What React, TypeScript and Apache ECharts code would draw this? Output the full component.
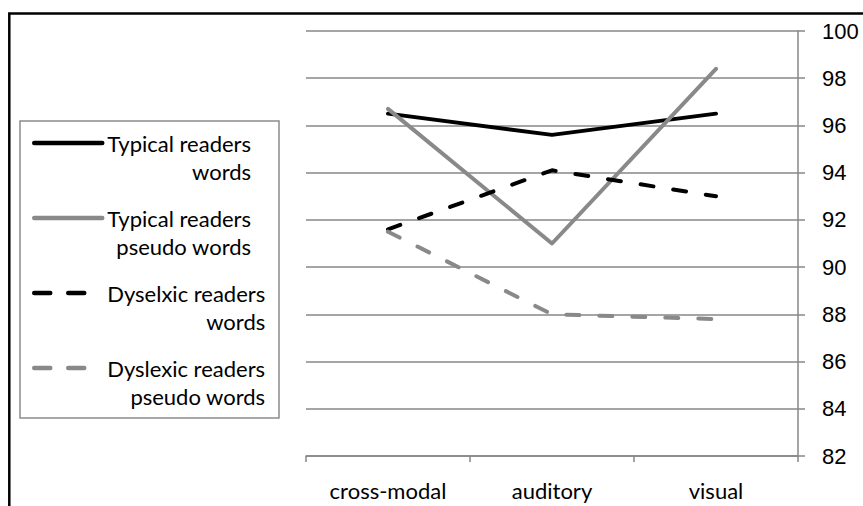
import React, { useEffect, useRef } from "react";
import * as echarts from "echarts";

const categories = ["cross-modal", "auditory", "visual"];
const seriesNames = [
  "Typical readers words",
  "Typical readers pseudo words",
  "Dyselxic readers words",
  "Dyslexic readers pseudo words",
];
const legendFirstLines = ["Typical readers", "Typical readers", "Dyselxic readers", "Dyslexic readers"];
const legendSecondLines = ["words", "pseudo words", "words", "pseudo words"];
const typicalWords = [96.5, 95.6, 96.5];
const typicalPseudo = [96.7, 91.0, 98.4];
const dyslexicWords = [91.6, 94.1, 93.0];
const dyslexicPseudo = [91.5, 88.0, 87.8];
const yMin = 82;
const yMax = 100;
const yStep = 2;

const BLACK = "#000000";
const GRAY = "#898989";
const GRID = "#878787";
const LABEL_FONT = "Lato";
const NUM_FONT = "Liberation Sans";

export default function App() {
  const ref = useRef<HTMLDivElement>(null);
  useEffect(() => {
    if (!ref.current) return;
    const chart = echarts.init(ref.current, undefined, { renderer: "svg" });
    const richTok = { fontFamily: LABEL_FONT, fontSize: 22, lineHeight: 28, color: "#000" };
    const dash = [13, 20];
    const legendDash = [16, 18];
    const dashedFlags = [false, false, true, true];
    const mk = (name: string, data: number[], color: string, dashed: boolean) => ({
      name,
      type: "line",
      data,
      symbol: "none",
      showSymbol: false,
      lineStyle: { color, width: 4, type: dashed ? dash : "solid", cap: "round", join: "round" },
      itemStyle: { color },
    });
    chart.setOption({
      animation: false,
      backgroundColor: "#ffffff",
      grid: { left: 306, right: 65, top: 31, bottom: 50, containLabel: false },
      xAxis: {
        type: "category",
        data: categories,
        boundaryGap: true,
        axisLine: { show: true, lineStyle: { color: GRID, width: 1.5 } },
        axisTick: { show: true, length: 6, lineStyle: { color: GRID, width: 1.5 } },
        axisLabel: { margin: 23, fontFamily: LABEL_FONT, fontSize: 22, color: "#000" },
        splitLine: { show: false },
      },
      yAxis: {
        type: "value",
        position: "right",
        min: yMin,
        max: yMax,
        interval: yStep,
        axisLine: { show: true, lineStyle: { color: GRID, width: 1.5 } },
        axisTick: { show: true, length: 7, lineStyle: { color: GRID, width: 1.5 } },
        axisLabel: { margin: 24, fontFamily: NUM_FONT, fontSize: 22, color: "#000" },
        splitLine: { show: true, lineStyle: { color: GRID, width: 1.5 } },
      },
      legend: {
        orient: "vertical",
        left: 32,
        top: 101,
        padding: 0,
        itemWidth: 68,
        itemHeight: 4,
        itemGap: -9,
        selectedMode: false,
        itemStyle: { opacity: 0 },
        lineStyle: { width: 4.5, cap: "round" },
        data: seriesNames.map((name, i) => ({
          name,
          lineStyle: { width: 4.5, cap: "round", type: dashedFlags[i] ? legendDash : "solid" },
        })),
        formatter: (name: string) => {
          const i = seriesNames.indexOf(name);
          return `{p| }\n{a|${legendFirstLines[i]}}\n{b|${legendSecondLines[i]}}`;
        },
        textStyle: {
          fontFamily: LABEL_FONT,
          fontSize: 22,
          lineHeight: 28,
          color: "#000",
          rich: {
            p: { ...richTok },
            a: { ...richTok },
            b: { ...richTok, align: "right" },
          },
        },
      },
      graphic: [
        {
          type: "rect",
          z: -10,
          silent: true,
          shape: { x: 9.3, y: 13.5, width: 900, height: 600 },
          style: { fill: "none", stroke: "#000", lineWidth: 2.5 },
        },
        {
          type: "rect",
          z: -5,
          silent: true,
          shape: { x: 20, y: 121, width: 259, height: 297 },
          style: { fill: "#fff", stroke: "#8c8c8c", lineWidth: 1.5 },
        },
      ],
      series: [
        mk(seriesNames[0], typicalWords, BLACK, false),
        mk(seriesNames[1], typicalPseudo, GRAY, false),
        mk(seriesNames[2], dyslexicWords, BLACK, true),
        mk(seriesNames[3], dyslexicPseudo, GRAY, true),
      ],
    });
    return () => chart.dispose();
  }, []);
  return (
    <div
      ref={ref}
      style={{ position: "absolute", left: 0, top: 0, width: 863, height: 506, background: "#fff" }}
    />
  );
}
